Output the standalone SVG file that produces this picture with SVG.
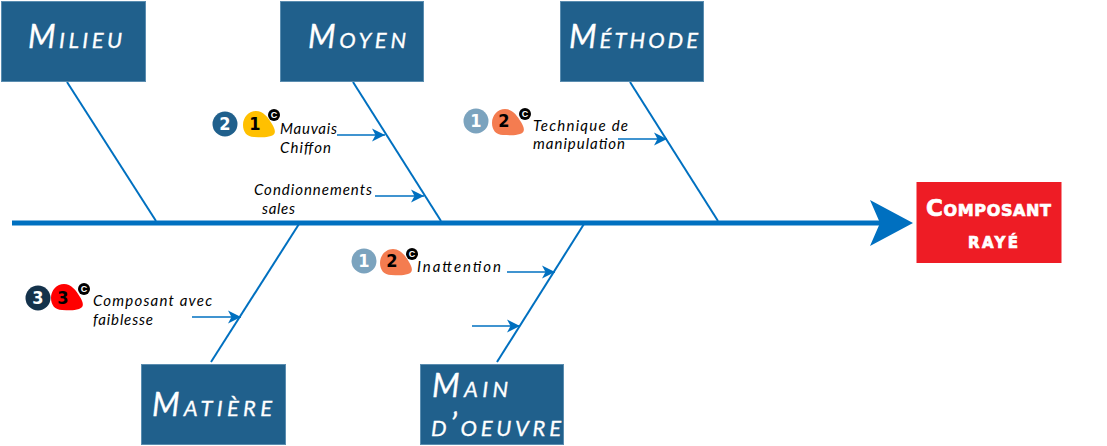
<svg xmlns="http://www.w3.org/2000/svg" width="1107" height="446" viewBox="0 0 1107 446">
<style>
.box{fill:#20608C;stroke:#5A8DB0;stroke-width:1}
.title{font-family:"Lato","Open Sans",sans-serif;font-style:italic;font-variant:small-caps;font-size:32px;fill:#fff;stroke:#fff;stroke-width:.3}
.note{font-family:"Lato","Open Sans",sans-serif;font-style:italic;font-size:15px;fill:#000}
.bone{fill:none;stroke:#0070C0;stroke-width:2}
.cause{fill:none;stroke:#0070C0;stroke-width:1.500;marker-end:url(#arrow)}
.num{font-family:"DejaVu Sans Condensed","DejaVu Sans",sans-serif;font-weight:700;font-size:18px;text-anchor:middle}
.c{font-family:"Liberation Sans",sans-serif;font-weight:700;font-size:9px;text-anchor:middle;fill:#fff}
.main{font-family:"DejaVu Sans",sans-serif;font-weight:700;font-variant:small-caps;fill:#fff;stroke:#fff;stroke-width:.7;text-anchor:middle}
</style>
<defs>
<marker id="arrow" markerUnits="userSpaceOnUse" markerWidth="16" markerHeight="16" refX="13" refY="7.500" orient="auto">
<path d="M0,1 L13,7.500 L0,14 L3.500,7.500 Z" fill="#0070C0"/>
</marker>
<path id="blob" d="M0,14 C0,6 6,0 13,0 C20,0 25,6 29,13 C32,18 34,23 28,25 C22,27 17,26 11,26 C4,26 0,21 0,14 Z"/>
</defs>
<g id="connectors">
<path d="M12,223 H882" fill="none" stroke="#0070C0" stroke-width="5"/>
<path d="M870,200 L913,223 L870,246 L880,223 Z" fill="#0070C0"/>
<path class="bone" d="M67,82 L156,221"/>
<path class="bone" d="M353,82 L441,221"/>
<path class="bone" d="M630,82 L718,221"/>
<path class="bone" d="M299,224 L211,362"/>
<path class="bone" d="M584,224 L497,362"/>
<path class="cause" d="M337,135 H385"/>
<path class="cause" d="M375,196 H424"/>
<path class="cause" d="M618,139 H667"/>
<path class="cause" d="M192,317 H241"/>
<path class="cause" d="M507,272 H555"/>
<path class="cause" d="M472,326 H520"/>
</g>
<g id="milieu"><rect class="box" x="1.500" y="1.500" width="144" height="80"/><text class="title" x="28" y="48" textLength="94">Milieu</text></g>
<g id="moyen"><rect class="box" x="280.500" y="1.500" width="143" height="80"/><text class="title" x="308" y="48" textLength="98">Moyen</text></g>
<g id="methode"><rect class="box" x="560.500" y="1.500" width="143" height="80"/><text class="title" x="569" y="48" textLength="129">Méthode</text></g>
<g id="matiere"><rect class="box" x="141.500" y="364.500" width="144" height="80"/><text class="title" x="152" y="416" textLength="120">Matière</text></g>
<g id="main-oeuvre"><rect class="box" x="420.500" y="364.500" width="143" height="80"/><text class="title" x="432" y="397" textLength="76">Main</text><text class="title" x="431" y="436" textLength="130">d’oeuvre</text></g>
<g id="composant"><rect x="916.500" y="182" width="145" height="81" fill="#EE1C25"/><text class="main" x="988.500" y="216" font-size="23" textLength="125">Composant</text><text class="main" x="993" y="248" font-size="21" textLength="50">rayé</text></g>
<g id="cause-mauvais-chiffon">
<circle cx="225" cy="124" r="12.500" fill="#20608C"/><text class="num" x="225" y="130" fill="#fff">2</text>
<use href="#blob" x="243" y="111" fill="#FFC000"/><text class="num" x="255" y="130">1</text>
<circle cx="274" cy="115" r="6" fill="#000"/><text class="c" x="274" y="118">C</text>
<text class="note" x="280" y="134" textLength="57">Mauvais</text><text class="note" x="280" y="153" textLength="51">Chiffon</text>
</g>
<g id="cause-condionnements">
<text class="note" x="254" y="195" textLength="118">Condionnements</text><text class="note" x="262" y="214" textLength="33">sales</text>
</g>
<g id="cause-technique">
<circle cx="476" cy="121" r="12.500" fill="#7BA3BE"/><text class="num" x="476" y="127" fill="#fff">1</text>
<use href="#blob" x="492" y="109" fill="#F47C50"/><text class="num" x="504" y="127">2</text>
<circle cx="525" cy="114" r="6" fill="#000"/><text class="c" x="525" y="117">C</text>
<text class="note" x="533" y="131" textLength="95">Technique de</text><text class="note" x="533" y="149" textLength="92">manipulation</text>
</g>
<g id="cause-composant">
<circle cx="38" cy="298" r="12.500" fill="#14324B"/><text class="num" x="38" y="304" fill="#fff">3</text>
<use href="#blob" x="51" y="284" fill="#FF0000"/><text class="num" x="63" y="304">3</text>
<circle cx="84" cy="289" r="6" fill="#000"/><text class="c" x="84" y="292">C</text>
<text class="note" x="93" y="306" textLength="119">Composant avec</text><text class="note" x="93" y="325" textLength="60">faiblesse</text>
</g>
<g id="cause-inattention">
<circle cx="364" cy="261" r="12.500" fill="#7BA3BE"/><text class="num" x="364" y="267" fill="#fff">1</text>
<use href="#blob" x="380" y="249" fill="#F47C50"/><text class="num" x="392" y="267">2</text>
<circle cx="412" cy="254" r="6" fill="#000"/><text class="c" x="412" y="257">C</text>
<text class="note" x="417" y="272" textLength="84">Inattention</text>
</g>
</svg>
